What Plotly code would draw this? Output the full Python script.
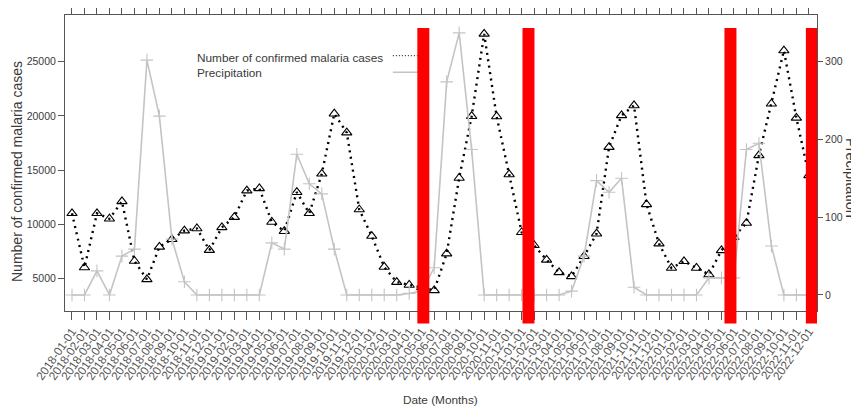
import plotly.graph_objects as go
import pandas as pd

# ---- data ----
months = pd.date_range("2018-01-01", periods=60, freq="MS").strftime("%Y-%m-%d").tolist()
malaria_cases = [11000, 6000, 11000, 10500, 12100, 6600, 4900, 7900, 8600, 9400,
                 9600, 7600, 9700, 10650, 13100, 13300, 10200, 9350, 12950, 11000,
                 14650, 20200, 18450, 11350, 8900, 6050, 4650, 4380, 4170, 3890,
                 7280, 14260, 19970, 27570, 19940, 14590, 9250, 8050, 6700, 5550,
                 5180, 7030, 9120, 17110, 20040, 20960, 11830, 8200, 5950, 6570,
                 5950, 5350, 7580, 8800, 10100, 16350, 21120, 26030, 19810, 14500]
precipitation = [0, 0, 31, 0, 50, 59, 302, 230, 72, 17,
                 0, 0, 0, 0, 0, 0, 67, 59, 181, 143,
                 130, 59, 0, 0, 0, 0, 0, 2, 5, 35,
                 274, 337, 187, 0, 0, 0, 0, 0, 0, 0,
                 5, 50, 147, 132, 150, 10, 0, 0, 0, 0,
                 0, 22, 22, 22, 187, 195, 63, 0, 0, 0]
left_ticks = [5000, 10000, 15000, 20000, 25000]
left_tick_labels = ["5000", "10000", "15000", "20000", "25000"]
right_ticks = [0, 100, 200, 300]
event_months = [28.13, 36.55, 52.72, 59.24]   # positions of red event bars (month index)
event_halfwidth = 0.48

x = list(range(len(months)))

FONT = "Liberation Sans, Arial"
AX = "#555555"
TXT = "#3a3a3a"

fig = go.Figure()
fig.add_trace(go.Scatter(
    x=x, y=precipitation, yaxis="y2", mode="lines+markers",
    line=dict(color="#c4c4c4", width=1.6),
    marker=dict(symbol="cross-thin-open", size=9, line=dict(color="#b8b8b8", width=1.1)),
    showlegend=False))
fig.add_trace(go.Scatter(
    x=x, y=malaria_cases, mode="lines+markers",
    line=dict(color="black", width=2.4, dash="2px,4.5px"),
    marker=dict(symbol="triangle-up-open", size=9, color="black", line=dict(color="black", width=1.1)),
    showlegend=False))

shapes = []
for c in event_months:
    shapes.append(dict(type="rect", xref="x", yref="paper",
                       x0=c - event_halfwidth, x1=c + event_halfwidth,
                       y0=-0.042, y1=0.956, fillcolor="#ff0000",
                       line=dict(width=0), layer="above"))
# legend samples
shapes.append(dict(type="line", xref="paper", yref="paper", x0=0.436, x1=0.48,
                   y0=0.8625, y1=0.8625, line=dict(color="black", width=1, dash="1px,2px"),
                   layer="below"))
shapes.append(dict(type="line", xref="paper", yref="paper", x0=0.436, x1=0.48,
                   y0=0.8064, y1=0.8064, line=dict(color="#c4c4c4", width=1.4),
                   layer="below"))

annotations = [
    dict(text="Number of confirmed malaria cases", xref="paper", yref="paper",
         x=0.1729, y=0.8564, xanchor="left", yanchor="middle", showarrow=False,
         font=dict(family=FONT, size=11.8, color=TXT)),
    dict(text="Precipitation", xref="paper", yref="paper",
         x=0.1729, y=0.804, xanchor="left", yanchor="middle", showarrow=False,
         font=dict(family=FONT, size=11.8, color=TXT)),
    dict(text="Number of confirmed malaria cases", xref="paper", yref="paper",
         x=(17 - 65) / 752, y=(311 - 172) / 296, xanchor="center", yanchor="middle",
         textangle=-90, showarrow=False, font=dict(family=FONT, size=14, color=TXT)),
    dict(text="Precipitation", xref="paper", yref="paper",
         x=(851 - 65) / 752, y=(311 - 178) / 296, xanchor="center", yanchor="middle",
         textangle=90, showarrow=False, font=dict(family=FONT, size=14.5, color=TXT)),
    dict(text="Date (Months)", xref="paper", yref="paper",
         x=(440 - 65) / 752, y=(311 - 400) / 296, xanchor="center", yanchor="middle",
         showarrow=False, font=dict(family=FONT, size=11.8, color=TXT)),
]

# page body has an 8px default margin, so the figure is 8px smaller and margins offset
fig.update_layout(
    width=851, height=402,
    margin=dict(l=57, r=42, t=7, b=99, autoexpand=False),
    plot_bgcolor="white", paper_bgcolor="white",
    shapes=shapes, annotations=annotations,
    xaxis=dict(range=[-0.56, 59.65], tickmode="array", tickvals=x, ticktext=months,
               tickangle=-55, ticks="outside", ticklen=8, tickcolor=AX, tickwidth=1,
               showline=True, linecolor=AX, linewidth=1, mirror="ticks",
               showgrid=False, zeroline=False, automargin=False,
               tickfont=dict(family=FONT, size=11.8, color="#555555")),
    yaxis=dict(range=[1981, 29312], tickmode="array", tickvals=left_ticks,
               ticktext=left_tick_labels,
               ticks="outside", ticklen=6, tickcolor=AX, showline=True, linecolor=AX,
               linewidth=1, mirror=True, showgrid=False, zeroline=False, automargin=False,
               tickfont=dict(family=FONT, size=10.5, color=TXT)),
    yaxis2=dict(range=[-20.6, 360], overlaying="y", side="right", tickmode="array",
                tickvals=right_ticks, ticks="outside", ticklen=5, tickcolor=AX,
                showline=False, showgrid=False, zeroline=False, automargin=False,
                tickfont=dict(family=FONT, size=10.5, color=TXT)),
)

fig.write_html("out.html")
